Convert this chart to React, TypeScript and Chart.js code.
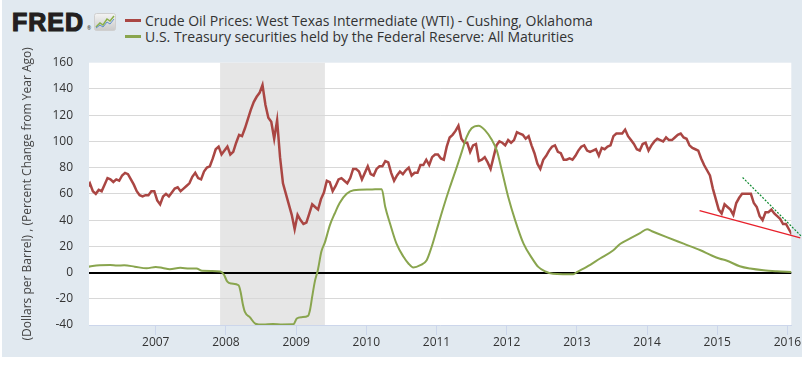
import React, { useEffect, useRef } from 'react';
import { Chart, registerables } from 'chart.js';

Chart.register(...registerables);

// WTI crude oil, $/barrel, two readings per month (first half, second half)
const oil2006 = [64, 68, 62, 60, 63, 62, 67, 72, 71, 69, 71, 70, 74, 76, 75, 71, 67, 62, 59, 58, 59, 59, 62, 62];
const oil2007 = [55, 52, 58, 60, 58, 61, 64, 65, 62, 64, 66, 68, 73, 76, 72, 71, 77, 80, 81, 87, 94, 96, 90, 93];
const oil2008 = [96, 90, 92, 99, 105, 104, 110, 117, 124, 130, 134, 137, 143, 128, 118, 115, 102, 116, 88, 68, 60, 52, 44, 33];
const oil2009 = [44, 40, 37, 38, 45, 52, 50, 48, 56, 61, 70, 69, 62, 66, 71, 72, 70, 68, 72, 79, 79, 77, 71, 76];
const oil2010 = [81, 75, 74, 79, 81, 81, 85, 84, 76, 70, 74, 77, 75, 78, 80, 74, 76, 76, 82, 82, 86, 82, 88, 90];
const oil2011 = [90, 87, 86, 96, 103, 105, 108, 112, 102, 99, 99, 92, 97, 98, 85, 86, 88, 84, 79, 88, 97, 100, 99, 97];
const oil2012 = [101, 99, 101, 107, 106, 105, 102, 104, 97, 91, 83, 79, 86, 89, 93, 96, 97, 92, 91, 86, 86, 87, 86, 89];
const oil2013 = [93, 96, 97, 93, 92, 93, 94, 89, 95, 94, 96, 97, 104, 106, 106, 106, 109, 104, 101, 98, 94, 93, 98, 99];
const oil2014 = [93, 97, 100, 102, 101, 100, 103, 101, 101, 103, 105, 106, 103, 102, 97, 95, 94, 93, 87, 82, 78, 74, 64, 56];
const oil2015 = [48, 45, 52, 50, 48, 44, 53, 57, 60, 60, 60, 60, 53, 50, 43, 40, 46, 46, 48, 45, 43, 41, 37, 37];
const oil2016 = [33, 29];
const oilStartYear = 2006;
const oilValues = [...oil2006, ...oil2007, ...oil2008, ...oil2009, ...oil2010, ...oil2011, ...oil2012, ...oil2013, ...oil2014, ...oil2015, ...oil2016];

// Treasury securities held by the Fed, % change from year ago
const treasuryDates = [
  2006.0, 2006.1, 2006.2, 2006.35, 2006.45, 2006.55, 2006.7, 2006.87, 2007.0, 2007.1, 2007.2, 2007.35, 2007.48, 2007.58, 2007.66, 2007.8,
  2007.92, 2007.97, 2008.02, 2008.08, 2008.18, 2008.21, 2008.24, 2008.27, 2008.34, 2008.42, 2008.53, 2008.67, 2008.8, 2008.96,
  2009.01, 2009.08, 2009.17, 2009.2, 2009.23, 2009.27, 2009.31, 2009.36, 2009.41, 2009.48, 2009.55, 2009.62, 2009.72, 2009.82,
  2010.05, 2010.22, 2010.27, 2010.34, 2010.43, 2010.53, 2010.6, 2010.67, 2010.77, 2010.86, 2010.93, 2011.0, 2011.1, 2011.19,
  2011.29, 2011.36, 2011.43, 2011.5, 2011.6, 2011.69, 2011.79, 2011.86, 2011.93, 2012.02, 2012.12, 2012.24, 2012.36, 2012.45,
  2012.55, 2012.66, 2012.8, 2012.95, 2013.0, 2013.14, 2013.33, 2013.52, 2013.62, 2013.76, 2013.9, 2014.0, 2014.07, 2014.28,
  2014.52, 2014.76, 2014.92, 2015.04, 2015.13, 2015.32, 2015.47, 2015.66, 2015.85, 2016.06,
];
const treasuryValues = [
  4, 5, 5.6, 5.8, 5.3, 5.5, 4.5, 3.2, 4.3, 3.5, 2.6, 3.6, 3.0, 3.0, 1.3, 1.2,
  0.8, -1.5, -7, -8.4, -9.7, -15, -24, -30, -34, -39, -39.7, -39.2, -39.6, -39.5,
  -35, -34, -33, -28, -18, -6, 2, 16, 23, 36, 45, 53, 60, 62.8,
  63.3, 63.6, 50, 37, 22, 12, 6.9, 3.8, 5.6, 9.4, 19.5, 32, 50, 65,
  80.6, 92, 103.5, 110, 112, 108.6, 101, 93, 78, 58, 40, 22, 11, 4.3,
  0.8, -1, -1.3, -1.3, 0.3, 4.3, 10.7, 17, 22, 26, 30, 33, 31.5, 27,
  22, 17, 13, 10.5, 9.2, 4.8, 3, 1.7, 1, 0.5,
];

const tickYears = [2007, 2008, 2009, 2010, 2011, 2012, 2013, 2014, 2015, 2016];
const xRange = [2006.049, 2016.055];
const yRange = [-40, 160];
const yStep = 20;
const recession = [2007.917, 2009.41];
// hand-drawn trend lines (year, value)
const redTrend = [[2014.748, 47.3], [2016.183, 26.4]];
const greenTrend = [[2015.361, 72.5], [2016.207, 27.2]];

const legendItems = [
  { label: 'Crude Oil Prices: West Texas Intermediate (WTI) - Cushing, Oklahoma', color: '#AA4643' },
  { label: 'U.S. Treasury securities held by the Federal Reserve: All Maturities', color: '#89A54E' },
];
const yTitle = '(Dollars per Barrel) , (Percent Change from Year Ago)';

const FONT = '"Open Sans", "DejaVu Sans", sans-serif';

const plotPlugin = {
  id: 'plotDecor',
  beforeDraw(chart: any) {
    const { ctx, chartArea: a, scales } = chart;
    const x = scales.x;
    ctx.save();
    ctx.fillStyle = '#ffffff';
    ctx.fillRect(a.left, a.top, a.right - a.left, a.bottom - a.top);
    const x0 = x.getPixelForValue(recession[0]);
    const x1 = x.getPixelForValue(recession[1]);
    ctx.fillStyle = '#e6e6e6';
    ctx.fillRect(x0, a.top, x1 - x0, a.bottom - a.top);
    ctx.restore();
  },
  afterDatasetsDraw(chart: any) {
    const { ctx, scales } = chart;
    const { x, y } = scales;
    const line = (pts: number[][], color: string, width: number, dash: number[]) => {
      ctx.save();
      ctx.strokeStyle = color;
      ctx.lineWidth = width;
      ctx.setLineDash(dash);
      ctx.beginPath();
      ctx.moveTo(x.getPixelForValue(pts[0][0]), y.getPixelForValue(pts[0][1]));
      ctx.lineTo(x.getPixelForValue(pts[1][0]), y.getPixelForValue(pts[1][1]));
      ctx.stroke();
      ctx.restore();
    };
    line(redTrend, '#e8202b', 1.3, []);
    line(greenTrend, '#0f8a30', 1.2, [2, 1.5]);
  },
};

export default function App() {
  const ref = useRef<HTMLCanvasElement | null>(null);

  useEffect(() => {
    if (!ref.current) return;
    const oilPoints = oilValues.map((v, i) => ({ x: oilStartYear + (i + 0.5) / 24, y: v }));
    const tPoints = treasuryDates.map((d, i) => ({ x: d, y: treasuryValues[i] }));
    const chart = new Chart(ref.current, {
      type: 'line',
      data: {
        datasets: [
          {
            label: legendItems[1].label,
            data: tPoints,
            borderColor: legendItems[1].color,
            borderWidth: 2,
            pointRadius: 0,
            cubicInterpolationMode: 'monotone',
            fill: false,
          },
          {
            label: legendItems[0].label,
            data: oilPoints,
            borderColor: legendItems[0].color,
            borderWidth: 2.5,
            pointRadius: 0,
            tension: 0,
            fill: false,
          },
        ],
      },
      options: {
        animation: false,
        responsive: false,
        layout: { padding: { left: 0, top: 62.7, right: 20.7, bottom: 14 } },
        plugins: { legend: { display: false }, tooltip: { enabled: false } },
        scales: {
          x: {
            type: 'linear',
            min: xRange[0],
            max: xRange[1],
            afterBuildTicks: (s: any) => {
              s.ticks = tickYears.map((v) => ({ value: v }));
            },
            afterFit: (s: any) => {
              s.height = 32;
            },
            grid: { drawOnChartArea: false, drawTicks: true, tickLength: 10, color: '#ccd6eb' },
            border: { display: true, color: '#ccd6eb', width: 1 },
            ticks: {
              autoSkip: false,
              maxRotation: 0,
              padding: 0,
              color: '#333',
              font: { family: FONT, size: 12 },
              callback: (v: any) => String(v),
            },
          },
          y: {
            min: yRange[0],
            max: yRange[1],
            afterFit: (s: any) => {
              s.width = 89;
            },
            ticks: {
              stepSize: yStep,
              padding: 16,
              color: '#333',
              font: { family: FONT, size: 12 },
              callback: (v: any) => String(v),
            },
            grid: {
              drawTicks: false,
              color: (c: any) => {
                const v = c.tick ? c.tick.value : null;
                if (v === 0) return '#000000';
                if (v === yRange[0] || v === yRange[1]) return 'rgba(0,0,0,0)';
                return '#d8d8d8';
              },
              lineWidth: (c: any) => (c.tick && c.tick.value === 0 ? 2 : 1),
            },
            border: { display: false },
            title: {
              display: true,
              text: yTitle,
              color: '#444',
              font: { family: FONT, size: 12 },
              padding: { top: 20, bottom: 0 },
            },
          },
        },
      },
      plugins: [plotPlugin],
    } as any);
    return () => chart.destroy();
  }, []);

  return (
    <div style={{ position: 'absolute', left: 0, top: 0, width: 812, height: 371, background: '#ffffff', overflow: 'hidden' }}>
      <div style={{ position: 'absolute', left: 2, top: 0, width: 800, height: 357, background: '#e1e9f0' }} />
      <div
        style={{
          position: 'absolute',
          left: 12,
          top: 9.5,
          fontFamily: '"Liberation Sans", Arial, sans-serif',
          fontWeight: 700,
          fontSize: 25,
          lineHeight: '25px',
          letterSpacing: '1px',
          color: '#231f20',
          WebkitTextStroke: '1.2px #231f20',
          whiteSpace: 'nowrap',
        }}
      >
        FRED
      </div>
      <div style={{ position: 'absolute', left: 87, top: 26, fontSize: 5, lineHeight: '5px', fontFamily: FONT, color: '#231f20' }}>®</div>
      <svg style={{ position: 'absolute', left: 94, top: 13 }} width={22} height={18} viewBox="0 0 22 18">
        <defs>
          <linearGradient id="ig" x1="0" y1="0" x2="0" y2="1">
            <stop offset="0" stopColor="#f4f4f4" />
            <stop offset="1" stopColor="#c9c9c9" />
          </linearGradient>
        </defs>
        <rect x={0.5} y={0.5} width={21} height={17} rx={2} fill="url(#ig)" stroke="#cfcfcf" />
        <polyline points="2,14 6,10 9,12 13,6 16,8 20,3" fill="none" stroke="#8ab04a" strokeWidth={1.5} />
        <polyline points="2,15 6,12 9,14 13,9 16,11 20,6" fill="none" stroke="#5b8fc9" strokeWidth={1} />
      </svg>
      {legendItems.map((it, i) => (
        <div key={i}>
          <div style={{ position: 'absolute', left: 125, top: 19 + i * 16, width: 16, height: 2.5, background: it.color }} />
          <div
            style={{
              position: 'absolute',
              left: 145,
              top: 12 + i * 16,
              fontFamily: FONT,
              fontSize: 14,
              lineHeight: '17px',
              color: '#333',
              whiteSpace: 'nowrap',
            }}
          >
            {it.label}
          </div>
        </div>
      ))}
      <canvas ref={ref} width={812} height={371} style={{ position: 'absolute', left: 0, top: 0 }} />
    </div>
  );
}
